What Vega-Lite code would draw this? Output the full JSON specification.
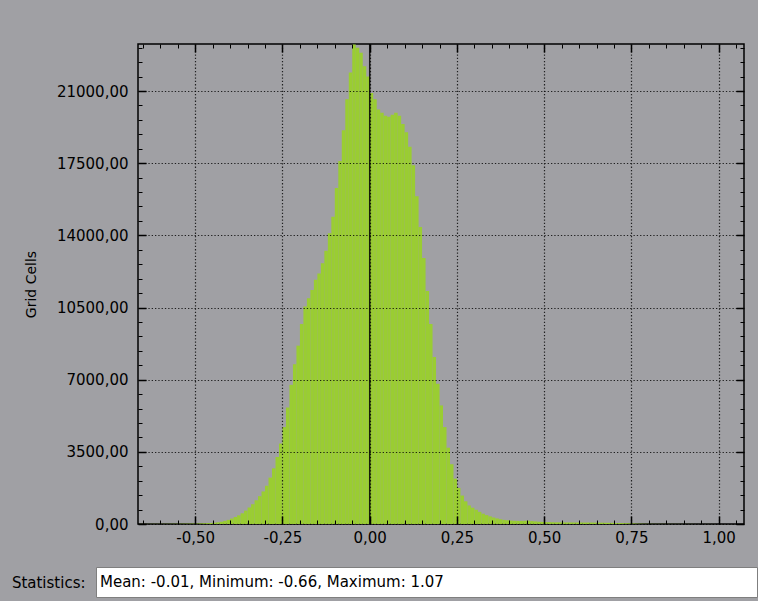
{
  "$schema": "https://vega.github.io/schema/vega-lite/v6.json",
  "background": "#a0a0a4",
  "padding": {"left": 10, "top": 38, "right": 0, "bottom": 3},
  "autosize": {"type": "pad"},
  "spacing": 19,
  "datasets": {
    "hist": [
      {"s": -0.66, "e": -0.65, "n": 4}, {"s": -0.65, "e": -0.64, "n": 4}, {"s": -0.64, "e": -0.63, "n": 5}, {"s": -0.63, "e": -0.62, "n": 5},
      {"s": -0.62, "e": -0.61, "n": 6}, {"s": -0.61, "e": -0.60, "n": 6}, {"s": -0.60, "e": -0.59, "n": 7}, {"s": -0.59, "e": -0.58, "n": 8},
      {"s": -0.58, "e": -0.57, "n": 9}, {"s": -0.57, "e": -0.56, "n": 10}, {"s": -0.56, "e": -0.55, "n": 11}, {"s": -0.55, "e": -0.54, "n": 12},
      {"s": -0.54, "e": -0.53, "n": 14}, {"s": -0.53, "e": -0.52, "n": 16}, {"s": -0.52, "e": -0.51, "n": 18}, {"s": -0.51, "e": -0.50, "n": 20},
      {"s": -0.50, "e": -0.49, "n": 24}, {"s": -0.49, "e": -0.48, "n": 30}, {"s": -0.48, "e": -0.47, "n": 36}, {"s": -0.47, "e": -0.46, "n": 42},
      {"s": -0.46, "e": -0.45, "n": 50}, {"s": -0.45, "e": -0.44, "n": 62}, {"s": -0.44, "e": -0.43, "n": 80}, {"s": -0.43, "e": -0.42, "n": 110},
      {"s": -0.42, "e": -0.41, "n": 150}, {"s": -0.41, "e": -0.40, "n": 200}, {"s": -0.40, "e": -0.39, "n": 265}, {"s": -0.39, "e": -0.38, "n": 340},
      {"s": -0.38, "e": -0.37, "n": 420}, {"s": -0.37, "e": -0.36, "n": 520}, {"s": -0.36, "e": -0.35, "n": 650}, {"s": -0.35, "e": -0.34, "n": 800},
      {"s": -0.34, "e": -0.33, "n": 960}, {"s": -0.33, "e": -0.32, "n": 1150}, {"s": -0.32, "e": -0.31, "n": 1350}, {"s": -0.31, "e": -0.30, "n": 1580},
      {"s": -0.30, "e": -0.29, "n": 1850}, {"s": -0.29, "e": -0.28, "n": 2250}, {"s": -0.28, "e": -0.27, "n": 2700}, {"s": -0.27, "e": -0.26, "n": 3250},
      {"s": -0.26, "e": -0.25, "n": 3900}, {"s": -0.25, "e": -0.24, "n": 4700}, {"s": -0.24, "e": -0.23, "n": 5650}, {"s": -0.23, "e": -0.22, "n": 6750},
      {"s": -0.22, "e": -0.21, "n": 7750}, {"s": -0.21, "e": -0.20, "n": 8650}, {"s": -0.20, "e": -0.19, "n": 9700}, {"s": -0.19, "e": -0.18, "n": 10550},
      {"s": -0.18, "e": -0.17, "n": 10950}, {"s": -0.17, "e": -0.16, "n": 11350}, {"s": -0.16, "e": -0.15, "n": 11850}, {"s": -0.15, "e": -0.14, "n": 12150},
      {"s": -0.14, "e": -0.13, "n": 12650}, {"s": -0.13, "e": -0.12, "n": 13250}, {"s": -0.12, "e": -0.11, "n": 14100}, {"s": -0.11, "e": -0.10, "n": 14900},
      {"s": -0.10, "e": -0.09, "n": 16300}, {"s": -0.09, "e": -0.08, "n": 17600}, {"s": -0.08, "e": -0.07, "n": 19100}, {"s": -0.07, "e": -0.06, "n": 20600},
      {"s": -0.06, "e": -0.05, "n": 21900}, {"s": -0.05, "e": -0.04, "n": 23250}, {"s": -0.04, "e": -0.03, "n": 23100}, {"s": -0.03, "e": -0.02, "n": 22850},
      {"s": -0.02, "e": -0.01, "n": 22200}, {"s": -0.01, "e": 0.00, "n": 21700}, {"s": 0.00, "e": 0.01, "n": 20900}, {"s": 0.01, "e": 0.02, "n": 20600},
      {"s": 0.02, "e": 0.03, "n": 20100}, {"s": 0.03, "e": 0.04, "n": 19950}, {"s": 0.04, "e": 0.05, "n": 19800}, {"s": 0.05, "e": 0.06, "n": 19750},
      {"s": 0.06, "e": 0.07, "n": 19850}, {"s": 0.07, "e": 0.08, "n": 19950}, {"s": 0.08, "e": 0.09, "n": 19800}, {"s": 0.09, "e": 0.10, "n": 19400},
      {"s": 0.10, "e": 0.11, "n": 19000}, {"s": 0.11, "e": 0.12, "n": 18300}, {"s": 0.12, "e": 0.13, "n": 17400}, {"s": 0.13, "e": 0.14, "n": 15900},
      {"s": 0.14, "e": 0.15, "n": 14400}, {"s": 0.15, "e": 0.16, "n": 12900}, {"s": 0.16, "e": 0.17, "n": 11300}, {"s": 0.17, "e": 0.18, "n": 9700},
      {"s": 0.18, "e": 0.19, "n": 8100}, {"s": 0.19, "e": 0.20, "n": 6800}, {"s": 0.20, "e": 0.21, "n": 5750}, {"s": 0.21, "e": 0.22, "n": 4700},
      {"s": 0.22, "e": 0.23, "n": 3700}, {"s": 0.23, "e": 0.24, "n": 2900}, {"s": 0.24, "e": 0.25, "n": 2200}, {"s": 0.25, "e": 0.26, "n": 1750},
      {"s": 0.26, "e": 0.27, "n": 1380}, {"s": 0.27, "e": 0.28, "n": 1100}, {"s": 0.28, "e": 0.29, "n": 900}, {"s": 0.29, "e": 0.30, "n": 790},
      {"s": 0.30, "e": 0.31, "n": 690}, {"s": 0.31, "e": 0.32, "n": 590}, {"s": 0.32, "e": 0.33, "n": 500}, {"s": 0.33, "e": 0.34, "n": 430},
      {"s": 0.34, "e": 0.35, "n": 370}, {"s": 0.35, "e": 0.36, "n": 315}, {"s": 0.36, "e": 0.37, "n": 270}, {"s": 0.37, "e": 0.38, "n": 230},
      {"s": 0.38, "e": 0.39, "n": 200}, {"s": 0.39, "e": 0.40, "n": 180}, {"s": 0.40, "e": 0.41, "n": 165}, {"s": 0.41, "e": 0.42, "n": 155},
      {"s": 0.42, "e": 0.43, "n": 150}, {"s": 0.43, "e": 0.44, "n": 150}, {"s": 0.44, "e": 0.45, "n": 155}, {"s": 0.45, "e": 0.46, "n": 160},
      {"s": 0.46, "e": 0.47, "n": 140}, {"s": 0.47, "e": 0.48, "n": 125}, {"s": 0.48, "e": 0.49, "n": 110}, {"s": 0.49, "e": 0.50, "n": 100},
      {"s": 0.50, "e": 0.51, "n": 95}, {"s": 0.51, "e": 0.52, "n": 90}, {"s": 0.52, "e": 0.53, "n": 85}, {"s": 0.53, "e": 0.54, "n": 82},
      {"s": 0.54, "e": 0.55, "n": 80}, {"s": 0.55, "e": 0.56, "n": 78}, {"s": 0.56, "e": 0.57, "n": 76}, {"s": 0.57, "e": 0.58, "n": 75},
      {"s": 0.58, "e": 0.59, "n": 74}, {"s": 0.59, "e": 0.60, "n": 73}, {"s": 0.60, "e": 0.61, "n": 72}, {"s": 0.61, "e": 0.62, "n": 71},
      {"s": 0.62, "e": 0.63, "n": 70}, {"s": 0.63, "e": 0.64, "n": 70}, {"s": 0.64, "e": 0.65, "n": 68}, {"s": 0.65, "e": 0.66, "n": 66},
      {"s": 0.66, "e": 0.67, "n": 63}, {"s": 0.67, "e": 0.68, "n": 60}, {"s": 0.68, "e": 0.69, "n": 57}, {"s": 0.69, "e": 0.70, "n": 54},
      {"s": 0.70, "e": 0.71, "n": 50}, {"s": 0.71, "e": 0.72, "n": 47}, {"s": 0.72, "e": 0.73, "n": 44}, {"s": 0.73, "e": 0.74, "n": 40},
      {"s": 0.74, "e": 0.75, "n": 36}, {"s": 0.75, "e": 0.76, "n": 28}, {"s": 0.76, "e": 0.77, "n": 20}, {"s": 0.77, "e": 0.78, "n": 15},
      {"s": 0.78, "e": 0.79, "n": 11}, {"s": 0.79, "e": 0.80, "n": 9}, {"s": 0.80, "e": 0.81, "n": 7}, {"s": 0.81, "e": 0.82, "n": 6},
      {"s": 0.82, "e": 0.83, "n": 6}, {"s": 0.83, "e": 0.84, "n": 5}, {"s": 0.84, "e": 0.85, "n": 5}, {"s": 0.85, "e": 0.86, "n": 5},
      {"s": 0.86, "e": 0.87, "n": 4}, {"s": 0.87, "e": 0.88, "n": 4}, {"s": 0.88, "e": 0.89, "n": 4}, {"s": 0.89, "e": 0.90, "n": 3},
      {"s": 0.90, "e": 0.91, "n": 3}, {"s": 0.91, "e": 0.92, "n": 3}, {"s": 0.92, "e": 0.93, "n": 3}, {"s": 0.93, "e": 0.94, "n": 2},
      {"s": 0.94, "e": 0.95, "n": 2}, {"s": 0.95, "e": 0.96, "n": 2}, {"s": 0.96, "e": 0.97, "n": 2}, {"s": 0.97, "e": 0.98, "n": 2},
      {"s": 0.98, "e": 0.99, "n": 2}, {"s": 0.99, "e": 1.00, "n": 1}, {"s": 1.00, "e": 1.01, "n": 1}, {"s": 1.01, "e": 1.02, "n": 1},
      {"s": 1.02, "e": 1.03, "n": 1}, {"s": 1.03, "e": 1.04, "n": 1}, {"s": 1.04, "e": 1.05, "n": 1}, {"s": 1.05, "e": 1.06, "n": 1},
      {"s": 1.06, "e": 1.07, "n": 1}
    ],
    "zero": [{"v": 0}],
    "blank": [{"t": ""}],
    "stats": [{"row": "s", "label": "Mean: -0.01, Minimum: -0.66, Maximum: 1.07"}]
  },
  "config": {
    "locale": {"number": {"decimal": ",", "thousands": ".", "grouping": [3], "currency": ["", ""], "minus": "-"}},
    "view": {"fill": "#a0a0a4", "stroke": "#000000", "strokeWidth": 1.5},
    "axis": {
      "labelFont": "DejaVu Sans", "labelFontSize": 15, "labelColor": "#000000",
      "titleFont": "DejaVu Sans", "titleFontWeight": "normal", "titleColor": "#000000",
      "tickColor": "#000000", "domain": false, "grid": false, "labels": false,
      "minExtent": 0, "labelFlush": false, "labelOverlap": false
    }
  },
  "vconcat": [
    {
      "hconcat": [
        {
          "width": 1,
          "height": 1,
          "view": {"fill": null, "stroke": null},
          "data": {"name": "blank"},
          "mark": {"type": "text"},
          "encoding": {"text": {"field": "t"}}
        },
        {
          "width": 606,
          "height": 480,
          "resolve": {"axis": {"x": "independent", "y": "independent"}},
          "layer": [
            {
              "data": {"name": "hist"},
              "mark": {"type": "rect", "color": "#9acd32"},
              "encoding": {
                "x": {"field": "s", "type": "quantitative",
                  "scale": {"domain": [-0.664, 1.0725], "nice": false, "zero": false},
                  "axis": {"orient": "bottom", "values": [-0.5, -0.25, 0, 0.25, 0.5, 0.75, 1], "format": ".2f",
                    "labels": true, "labelPadding": 14.5, "tickSize": -8, "tickWidth": 1.5, "minExtent": 0,
                    "grid": true, "gridColor": "#000000", "gridDash": [1.3, 2], "gridWidth": 1.2, "gridOpacity": 0.8,
                    "title": null, "zindex": 1}},
                "x2": {"field": "e"},
                "y": {"field": "n", "type": "quantitative",
                  "scale": {"domain": [0, 23280], "nice": false},
                  "axis": {"orient": "left", "values": [0, 3500, 7000, 10500, 14000, 17500, 21000], "format": ".2f",
                    "labels": true, "labelPadding": 18, "tickSize": -8, "tickWidth": 1.5, "minExtent": 0,
                    "grid": true, "gridColor": "#000000", "gridDash": [1.3, 2], "gridWidth": 1.2, "gridOpacity": 0.8,
                    "title": "Grid Cells", "titleFontSize": 14, "titlePadding": 18, "zindex": 1}},
                "y2": {"datum": 0}
              }
            },
            {
              "data": {"name": "hist"},
              "mark": {"type": "rect", "opacity": 0},
              "encoding": {
                "x": {"field": "s", "type": "quantitative",
                  "axis": {"orient": "bottom", "values": [-0.65, -0.6, -0.55, -0.45, -0.4, -0.35, -0.3, -0.2, -0.15, -0.1, -0.05, 0.05, 0.1, 0.15, 0.2, 0.3, 0.35, 0.4, 0.45, 0.55, 0.6, 0.65, 0.7, 0.8, 0.85, 0.9, 0.95, 1.05],
                    "tickSize": -4, "tickWidth": 1, "minExtent": 0, "title": null, "zindex": 1}},
                "x2": {"field": "e"},
                "y": {"field": "n", "type": "quantitative",
                  "axis": {"orient": "left", "values": [700, 1400, 2100, 2800, 4200, 4900, 5600, 6300, 7700, 8400, 9100, 9800, 11200, 11900, 12600, 13300, 14700, 15400, 16100, 16800, 18200, 18900, 19600, 20300, 21700, 22400, 23100],
                    "tickSize": -4, "tickWidth": 1, "minExtent": 0, "title": null, "zindex": 1}},
                "y2": {"datum": 0}
              }
            },
            {
              "data": {"name": "hist"},
              "mark": {"type": "rect", "opacity": 0},
              "encoding": {
                "x": {"field": "s", "type": "quantitative",
                  "axis": {"orient": "top", "values": [-0.5, -0.25, 0, 0.25, 0.5, 0.75, 1],
                    "tickSize": -8, "tickWidth": 1.5, "minExtent": 0, "title": null, "zindex": 1}},
                "x2": {"field": "e"},
                "y": {"field": "n", "type": "quantitative",
                  "axis": {"orient": "right", "values": [0, 3500, 7000, 10500, 14000, 17500, 21000],
                    "tickSize": -8, "tickWidth": 1.5, "minExtent": 0, "title": null, "zindex": 1}},
                "y2": {"datum": 0}
              }
            },
            {
              "data": {"name": "hist"},
              "mark": {"type": "rect", "opacity": 0},
              "encoding": {
                "x": {"field": "s", "type": "quantitative",
                  "axis": {"orient": "top", "values": [-0.65, -0.6, -0.55, -0.45, -0.4, -0.35, -0.3, -0.2, -0.15, -0.1, -0.05, 0.05, 0.1, 0.15, 0.2, 0.3, 0.35, 0.4, 0.45, 0.55, 0.6, 0.65, 0.7, 0.8, 0.85, 0.9, 0.95, 1.05],
                    "tickSize": -4, "tickWidth": 1, "minExtent": 0, "title": null, "zindex": 1}},
                "x2": {"field": "e"},
                "y": {"field": "n", "type": "quantitative",
                  "axis": {"orient": "right", "values": [700, 1400, 2100, 2800, 4200, 4900, 5600, 6300, 7700, 8400, 9100, 9800, 11200, 11900, 12600, 13300, 14700, 15400, 16100, 16800, 18200, 18900, 19600, 20300, 21700, 22400, 23100],
                    "tickSize": -4, "tickWidth": 1, "minExtent": 0, "title": null, "zindex": 1}},
                "y2": {"datum": 0}
              }
            },
            {
              "data": {"name": "zero"},
              "mark": {"type": "rule", "color": "#000000", "strokeWidth": 1.5, "opacity": 0.85},
              "encoding": {
                "x": {"field": "v", "type": "quantitative", "axis": null}
              }
            }
          ]
        }
      ],
      "spacing": 41,
      "bounds": "flush"
    },
    {
      "width": 661,
      "height": 30,
      "view": {"fill": "#ffffff", "stroke": "#7f7f7f", "strokeWidth": 1},
      "data": {"name": "stats"},
      "mark": {"type": "text", "align": "left", "baseline": "middle", "font": "DejaVu Sans", "fontSize": 15, "color": "#000000", "dx": 4},
      "encoding": {
        "x": {"field": "row", "type": "nominal", "scale": {"type": "point", "padding": 0, "align": 0}, "axis": null},
        "y": {"field": "row", "type": "nominal",
          "axis": {"title": "Statistics:", "titleAngle": 0, "titleAlign": "right", "titleBaseline": "middle",
            "titlePadding": 11, "titleFontSize": 15, "labels": false, "ticks": false, "domain": false, "grid": false, "minExtent": 0}},
        "text": {"field": "label"}
      }
    }
  ]
}
